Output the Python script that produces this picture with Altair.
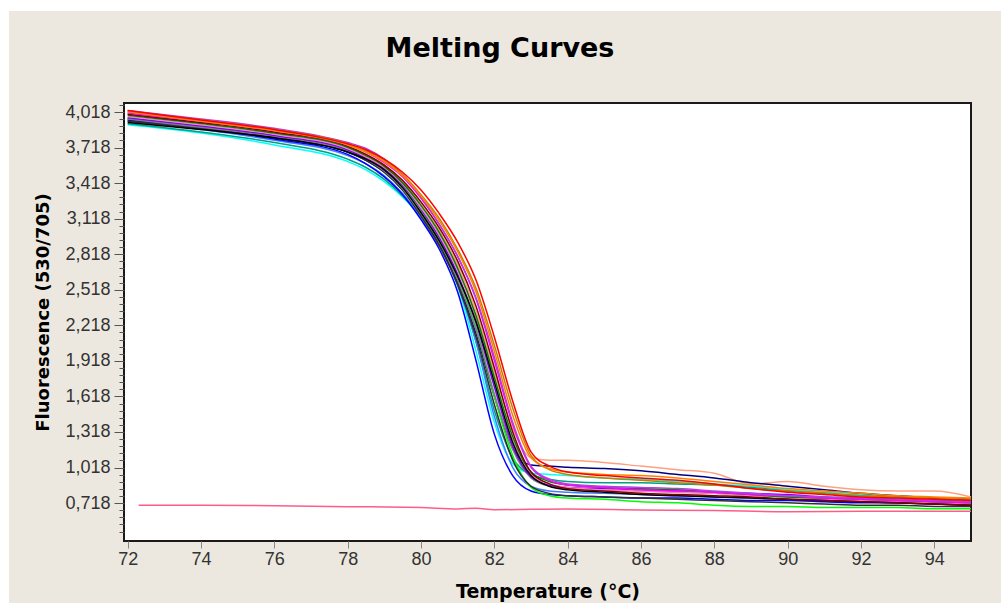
import altair as alt
import pandas as pd

# Temperature grid (°C) for the sample curves
T = [72.0, 74, 76, 78, 78.5, 79, 79.5, 80, 80.5, 81, 81.5, 82, 82.5, 83, 83.5,
     84, 85, 86, 87, 88, 89, 90, 91, 92, 93, 94, 95]

red = [4.03, 3.95, 3.87, 3.75, 3.70, 3.62, 3.51, 3.36, 3.16, 2.92, 2.60, 2.12, 1.58, 1.15, 1.03, 0.98, 0.95, 0.93, 0.91, 0.88, 0.84, 0.81, 0.79, 0.77, 0.76, 0.75, 0.74]
orange = [4.02, 3.94, 3.86, 3.74, 3.68, 3.60, 3.48, 3.31, 3.10, 2.84, 2.50, 2.00, 1.46, 1.10, 1.01, 0.98, 0.96, 0.95, 0.93, 0.90, 0.87, 0.84, 0.82, 0.80, 0.78, 0.77, 0.76]
maroon = [4.00, 3.93, 3.85, 3.73, 3.66, 3.57, 3.44, 3.26, 3.04, 2.76, 2.38, 1.86, 1.32, 0.98, 0.88, 0.84, 0.82, 0.80, 0.79, 0.78, 0.77, 0.75, 0.74, 0.73, 0.72, 0.71, 0.70]
purple = [4.03, 3.96, 3.88, 3.76, 3.71, 3.62, 3.49, 3.30, 3.07, 2.80, 2.45, 1.95, 1.40, 1.03, 0.92, 0.88, 0.86, 0.85, 0.84, 0.82, 0.80, 0.78, 0.77, 0.76, 0.75, 0.74, 0.73]
black = [3.93, 3.87, 3.80, 3.68, 3.62, 3.53, 3.38, 3.17, 2.93, 2.63, 2.25, 1.74, 1.23, 0.95, 0.86, 0.83, 0.81, 0.79, 0.78, 0.77, 0.76, 0.75, 0.74, 0.73, 0.72, 0.71, 0.70]
navy = [3.95, 3.88, 3.80, 3.68, 3.61, 3.51, 3.36, 3.15, 2.90, 2.58, 2.15, 1.62, 1.18, 1.04, 1.03, 1.02, 1.01, 0.99, 0.96, 0.93, 0.89, 0.86, 0.83, 0.80, 0.78, 0.76, 0.75]
blue = [3.96, 3.88, 3.79, 3.66, 3.58, 3.47, 3.32, 3.11, 2.86, 2.50, 1.92, 1.30, 0.95, 0.82, 0.79, 0.78, 0.77, 0.76, 0.76, 0.75, 0.74, 0.74, 0.73, 0.72, 0.72, 0.71, 0.70]
cyan = [3.91, 3.84, 3.74, 3.60, 3.53, 3.43, 3.30, 3.13, 2.90, 2.55, 2.00, 1.40, 1.05, 0.97, 0.96, 0.95, 0.93, 0.92, 0.90, 0.88, 0.86, 0.83, 0.81, 0.79, 0.78, 0.76, 0.75]
teal = [3.92, 3.85, 3.76, 3.62, 3.55, 3.45, 3.31, 3.13, 2.89, 2.56, 2.08, 1.50, 1.10, 0.96, 0.92, 0.90, 0.89, 0.89, 0.88, 0.87, 0.85, 0.82, 0.80, 0.78, 0.77, 0.76, 0.75]
green = [3.97, 3.90, 3.82, 3.70, 3.63, 3.53, 3.39, 3.19, 2.95, 2.63, 2.20, 1.62, 1.12, 0.85, 0.78, 0.76, 0.75, 0.73, 0.72, 0.70, 0.69, 0.69, 0.68, 0.68, 0.68, 0.67, 0.67]
darkgreen = [3.99, 3.92, 3.84, 3.72, 3.65, 3.56, 3.42, 3.23, 3.00, 2.70, 2.30, 1.78, 1.28, 0.98, 0.90, 0.87, 0.85, 0.84, 0.83, 0.81, 0.79, 0.77, 0.76, 0.75, 0.74, 0.73, 0.72]
magenta = [4.01, 3.94, 3.86, 3.74, 3.68, 3.59, 3.47, 3.29, 3.07, 2.80, 2.44, 1.92, 1.38, 1.02, 0.91, 0.87, 0.85, 0.83, 0.82, 0.81, 0.79, 0.78, 0.76, 0.75, 0.74, 0.73, 0.72]
pink = [3.98, 3.91, 3.83, 3.71, 3.64, 3.55, 3.41, 3.21, 2.98, 2.68, 2.28, 1.75, 1.25, 0.96, 0.88, 0.85, 0.83, 0.82, 0.81, 0.80, 0.78, 0.77, 0.75, 0.74, 0.73, 0.72, 0.71]
salmon = [4.00, 3.93, 3.85, 3.72, 3.66, 3.57, 3.44, 3.25, 3.02, 2.73, 2.34, 1.82, 1.35, 1.10, 1.08, 1.08, 1.06, 1.03, 1.00, 0.97, 0.88, 0.90, 0.86, 0.83, 0.82, 0.82, 0.77]
gray = [3.96, 3.89, 3.81, 3.69, 3.62, 3.52, 3.37, 3.16, 2.92, 2.60, 2.18, 1.64, 1.17, 0.93, 0.86, 0.84, 0.83, 0.82, 0.81, 0.80, 0.79, 0.77, 0.76, 0.75, 0.74, 0.73, 0.72]
brown = [4.02, 3.95, 3.87, 3.75, 3.69, 3.61, 3.49, 3.32, 3.12, 2.86, 2.53, 2.05, 1.52, 1.12, 1.00, 0.96, 0.93, 0.91, 0.89, 0.87, 0.84, 0.82, 0.80, 0.78, 0.77, 0.76, 0.75]
lightblue = [3.94, 3.87, 3.78, 3.65, 3.58, 3.48, 3.33, 3.13, 2.89, 2.56, 2.08, 1.45, 1.02, 0.86, 0.82, 0.81, 0.80, 0.79, 0.78, 0.77, 0.76, 0.75, 0.74, 0.73, 0.72, 0.72, 0.71]
violet = [3.97, 3.90, 3.82, 3.70, 3.63, 3.54, 3.40, 3.20, 2.96, 2.65, 2.24, 1.70, 1.20, 0.94, 0.87, 0.85, 0.84, 0.83, 0.82, 0.81, 0.80, 0.79, 0.77, 0.76, 0.75, 0.74, 0.73]
darkgray = [3.94, 3.88, 3.80, 3.68, 3.61, 3.51, 3.36, 3.14, 2.89, 2.56, 2.12, 1.55, 1.08, 0.86, 0.80, 0.78, 0.77, 0.76, 0.75, 0.74, 0.73, 0.72, 0.71, 0.70, 0.70, 0.69, 0.69]

# Negative control (flat pink line)
T_nc = [72.3, 74, 76, 78, 80, 81, 81.5, 82, 84, 86, 88, 90, 92, 95]
neg_ctrl = [0.700, 0.700, 0.695, 0.688, 0.680, 0.668, 0.675, 0.662, 0.668, 0.660, 0.655, 0.645, 0.648, 0.650]

curves = [
    ("cyan", "#00FFFF", cyan), ("teal", "#00A080", teal), ("lightblue", "#4080FF", lightblue),
    ("salmon", "#FFA080", salmon), ("navy", "#000080", navy), ("blue", "#0000FF", blue),
    ("green", "#00FF00", green), ("darkgray", "#303030", darkgray), ("gray", "#808080", gray),
    ("violet", "#8000FF", violet), ("pink", "#FF80C0", pink), ("black", "#000000", black),
    ("darkgreen", "#008000", darkgreen), ("maroon", "#800000", maroon), ("magenta", "#FF00FF", magenta),
    ("purple", "#B040E0", purple), ("brown", "#C08000", brown), ("orange", "#FF8000", orange),
    ("red", "#FF0000", red),
]

rows = []
for name, col, vals in curves:
    for t, v in zip(T, vals):
        rows.append({"T": t, "F": v, "curve": name})
for t, v in zip(T_nc, neg_ctrl):
    rows.append({"T": t, "F": v, "curve": "neg"})
df = pd.DataFrame(rows)

names = [c[0] for c in curves] + ["neg"]
colors = [c[1] for c in curves] + ["#FF5C8A"]

x_ticks = [72, 74, 76, 78, 80, 82, 84, 86, 88, 90, 92, 94]
y_major = [0.718, 1.018, 1.318, 1.618, 1.918, 2.218, 2.518, 2.818, 3.118, 3.418, 3.718, 4.018]
y_ticks = sorted(set([round(m + d, 3) for m in y_major for d in (-0.24, -0.18, -0.12, -0.06, 0.0, 0.06)] + [4.078]))

W, H = 847, 438
PAD = {"left": 124, "top": 103, "right": 30, "bottom": 62}

xscale = alt.Scale(domain=[71.9, 95.0], nice=False, zero=False)
yscale = alt.Scale(domain=[0.398, 4.094], nice=False, zero=False)

major_test = "abs((datum.value - 0.718) / 0.3 - round((datum.value - 0.718) / 0.3)) < 0.01"

xaxis = alt.Axis(values=x_ticks, format="d", title="Temperature (°C)",
                 titleFont="DejaVu Sans", titleFontSize=19, titleFontWeight="bold",
                 titleColor="#000000", titleY=56, titleBaseline="alphabetic",
                 labelFont="Liberation Sans", labelFontSize=18, labelColor="#333333",
                 tickSize=7, tickColor="#888888", labelPadding=2,
                 domain=False, grid=False, zindex=1)

yaxis = alt.Axis(values=y_ticks, title="Fluorescence (530/705)",
                 titleFont="DejaVu Sans", titleFontSize=18, titleFontWeight="bold",
                 titleColor="#000000", titleX=-76, titleY=209, titleAngle=270,
                 titleBaseline="alphabetic", titleAlign="center",
                 labelExpr=f"{major_test} ? replace(format(datum.value, '.3f'), '.', ',') : ''",
                 labelFont="Liberation Sans", labelFontSize=18, labelColor="#333333",
                 tickSize={"condition": {"test": major_test, "value": 10}, "value": 5},
                 tickColor="#555555", labelPadding=4,
                 domain=False, grid=False, zindex=1)

one = pd.DataFrame({"k": [0]})

beige = alt.Chart(one).mark_rect(color="#EDE8DF").encode(
    x=alt.value(-115), x2=alt.value(877), y=alt.value(-92), y2=alt.value(500))

plot_bg = alt.Chart(one).mark_rect(fill="white", stroke="#1a1a1a", strokeWidth=2).encode(
    x=alt.value(0), x2=alt.value(W), y=alt.value(0), y2=alt.value(H))

lines = alt.Chart(df).mark_line(strokeWidth=1.5, interpolate="monotone").encode(
    x=alt.X("T:Q", scale=xscale, axis=xaxis),
    y=alt.Y("F:Q", scale=yscale, axis=yaxis),
    color=alt.Color("curve:N", scale=alt.Scale(domain=names, range=colors), legend=None),
)

title = alt.Chart(one).mark_text(text="Melting Curves", font="DejaVu Sans", fontSize=27,
                                 fontWeight="bold", align="center", baseline="alphabetic",
                                 color="#000000").encode(x=alt.value(376), y=alt.value(-46))

chart = alt.layer(beige, plot_bg, lines, title).properties(
    width=W, height=H, padding=PAD, autosize="none", background="white"
).configure_view(strokeWidth=0)

chart.save("out.html", embed_options={"renderer": "svg", "actions": False})
